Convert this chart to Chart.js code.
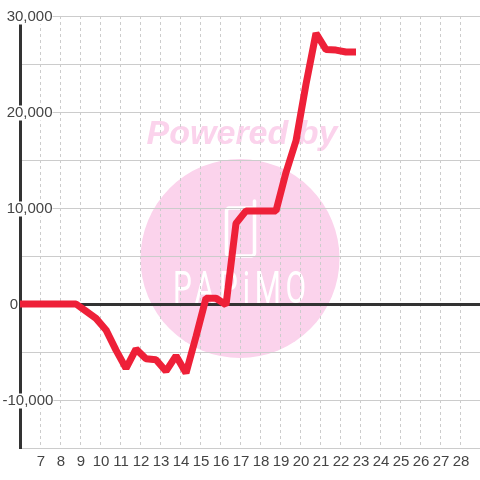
<!DOCTYPE html>
<html>
<head>
<meta charset="utf-8">
<style>
  html, body { margin: 0; padding: 0; background: #fff; }
  canvas { display: block; }
</style>
<script src="https://cdn.jsdelivr.net/npm/chart.js@4/dist/chart.umd.min.js"></script>
</head>
<body>
<canvas id="myChart" width="480" height="480"></canvas>
<script>
  // hours of the day, readings sit a bit off the hour ticks
  var times = [5.8, 6.3, 6.8, 7.3, 7.8, 8.3, 8.8, 9.3, 9.8, 10.3, 10.8, 11.3, 11.8, 12.3, 12.8, 13.3, 13.8, 14.3, 14.8, 15.3, 15.8, 16.3, 16.8, 17.3, 17.8, 18.3, 18.8, 19.3, 19.8, 20.3, 20.8, 21.3, 21.8, 22.3, 22.8];
  var values = [0, 0, 0, 0, 0, 0, 0, -750, -1500, -2700, -4800, -6700, -4700, -5700, -5800, -7000, -5400, -7200, -3400, 600, 600, -100, 8400, 9700, 9700, 9700, 9700, 13700, 17000, 22900, 28200, 26500, 26450, 26250, 26250];
  var xTicks = [7, 8, 9, 10, 11, 12, 13, 14, 15, 16, 17, 18, 19, 20, 21, 22, 23, 24, 25, 26, 27, 28];
  var yTicks = [-15000, -10000, -5000, 0, 5000, 10000, 15000, 20000, 25000, 30000];
  var yLabelled = [-10000, 0, 10000, 20000, 30000];

  // pink logo behind the plot
  var watermark = {
    id: 'watermark',
    beforeDraw: function(chart) {
      var c = chart.ctx;
      c.save();
      c.fillStyle = '#fbd3ec';
      c.beginPath();
      c.arc(240, 258.5, 99.5, 0, Math.PI * 2);
      c.fill();

      c.font = 'italic bold 34px "Liberation Sans"';
      c.textAlign = 'center';
      c.textBaseline = 'middle';
      c.fillText('Powered by', 242, 135);

      // phone outline
      c.strokeStyle = '#fff';
      c.lineWidth = 3.5;
      c.lineCap = 'round';
      c.beginPath();
      c.roundRect(226.5, 208, 28, 48, 3);
      c.moveTo(254.5, 208);
      c.lineTo(254.5, 201);
      c.stroke();

      c.fillStyle = '#fff';
      c.font = '400 44px Roboto';
      c.letterSpacing = '7px';
      c.translate(242, 292);
      c.scale(0.68, 1);
      c.fillText('PAPiMO', 0, 0);
      c.restore();
    }
  };

  var ctx = document.getElementById("myChart").getContext('2d');
  var myChart = new Chart(ctx, {
    type: 'line',
    data: {
      datasets: [{
        data: values.map(function(v, i) { return { x: times[i], y: v }; }),
        borderColor: '#ee2038',
        borderWidth: 7,
        borderJoinStyle: 'bevel',
        tension: 0,
        pointRadius: 0,
        fill: false
      }]
    },
    plugins: [watermark],
    options: {
      responsive: false,
      animation: false,
      layout: { padding: { top: 16, left: 0, right: 0, bottom: 0 } },
      plugins: { legend: { display: false }, tooltip: { enabled: false } },
      scales: {
        x: {
          type: 'linear',
          min: 6,
          max: 29,
          afterBuildTicks: function(scale) {
            scale.ticks = xTicks.map(function(v) { return { value: v }; });
          },
          afterFit: function(scale) { scale.height = 32; },
          grid: { color: '#ccc', lineWidth: 1, drawTicks: false },
          border: { display: false, dash: [3, 3] },
          ticks: {
            autoSkip: false,
            maxRotation: 0,
            padding: 5,
            labelOffset: 1,
            color: '#444',
            font: { family: '"Liberation Sans"', size: 15 },
            callback: function(v) { return String(v); }
          }
        },
        y: {
          min: -15000,
          max: 30000,
          afterBuildTicks: function(scale) {
            scale.ticks = yTicks.map(function(v) { return { value: v }; });
          },
          afterFit: function(scale) { scale.width = 20; },
          grid: {
            drawTicks: false,
            color: function(c) { return c.tick && c.tick.value === 0 ? '#333' : '#ccc'; },
            lineWidth: function(c) { return c.tick && c.tick.value === 0 ? 3 : 1; }
          },
          border: { color: '#333', width: 3 },
          ticks: {
            autoSkip: false,
            mirror: true,
            padding: -17.5,
            labelOffset: 1,
            color: '#444',
            font: { family: '"Liberation Sans"', size: 15, lineHeight: 1 },
            showLabelBackdrop: true,
            backdropColor: function(c) { return c.tick && c.tick.value === 0 ? 'rgba(0,0,0,0)' : '#fff'; },
            backdropPadding: 0,
            callback: function(v) {
              if (yLabelled.indexOf(v) < 0) return '';
              // mirrored labels are left aligned, spaces push them over to line up
              if (v === 0) return '\u00a0\u2009' + v;
              if (v < 0) return v.toLocaleString('en-US');
              return '\u00a0' + v.toLocaleString('en-US');
            }
          }
        }
      }
    }
  });
</script>
</body>
</html>
